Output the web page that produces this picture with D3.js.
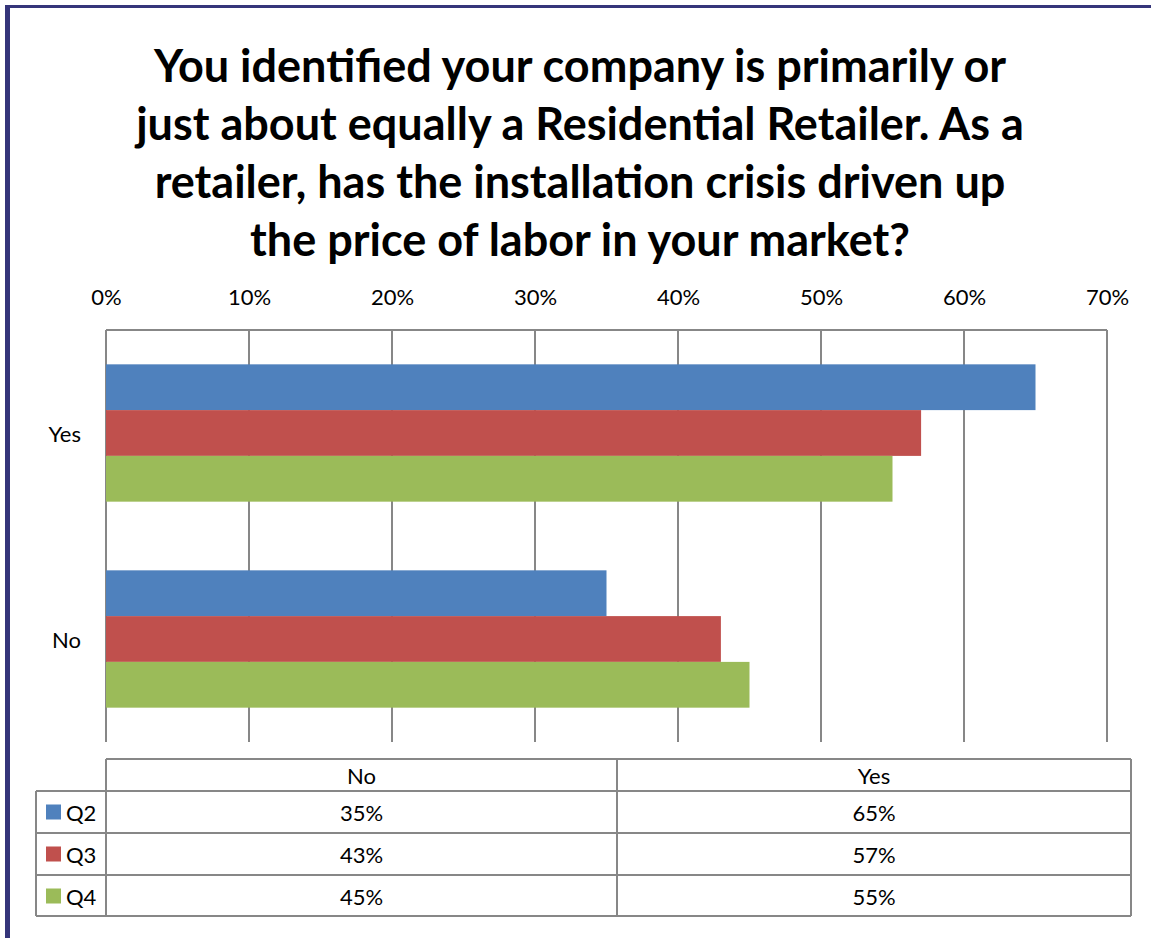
<!DOCTYPE html>
<html>
<head>
<meta charset="utf-8">
<script src="https://cdn.jsdelivr.net/npm/d3@7"></script>
<style>
  html, body { margin: 0; padding: 0; background: #fff; }
  svg { display: block; }
  text { font-family: Lato, "Open Sans", sans-serif; fill: #000; }
</style>
</head>
<body>
<svg id="chart" width="1151" height="938"></svg>
<script>
// Survey answers by quarter (share of respondents)
const categories = ["Yes", "No"];
const tableCategories = ["No", "Yes"];
const series = ["Q2", "Q3", "Q4"];
const q2Values = { Yes: 0.65, No: 0.35 };
const q3Values = { Yes: 0.57, No: 0.43 };
const q4Values = { Yes: 0.55, No: 0.45 };
const xTicks = [0, 0.1, 0.2, 0.3, 0.4, 0.5, 0.6, 0.7];
const titleLines = [
  "You identified your company is primarily or",
  "just about equally a Residential Retailer. As a",
  "retailer, has the installation crisis driven up",
  "the price of labor in your market?"
];

const seriesValues = { Q2: q2Values, Q3: q3Values, Q4: q4Values };
const colors = { Q2: "#4F81BD", Q3: "#C0504D", Q4: "#9BBB59" };
const gridColor = "#878787";
const smallFont = "22px";

const svg = d3.select("#chart");

// outer frame (left and top edges)
svg.append("rect").attr("x", 0).attr("y", 0).attr("width", 1151).attr("height", 938).attr("fill", "#fff");
svg.append("line").attr("x1", 5).attr("x2", 1151).attr("y1", 6.5).attr("y2", 6.5)
  .attr("stroke", "#35357A").attr("stroke-width", 3);
svg.append("line").attr("x1", 7.5).attr("x2", 7.5).attr("y1", 5).attr("y2", 938)
  .attr("stroke", "#35357A").attr("stroke-width", 5);

// title
const title = svg.append("text").attr("text-anchor", "middle")
  .style("font-weight", "bold").style("font-size", "45px");
titleLines.forEach((t, i) => {
  title.append("tspan").attr("x", 580).attr("y", 82 + i * 58).text(t);
});

// scales
const plotLeft = 106, plotRight = 1107, plotTop = 330, plotBottom = 742;
const x = d3.scaleLinear().domain([0, 0.7]).range([plotLeft, plotRight]);
const y0 = d3.scaleBand().domain(categories).range([plotTop, plotBottom]).padding(0);
const y1 = d3.scaleBand().domain(series).range([0, y0.bandwidth()])
  .paddingInner(0).paddingOuter(0.75);

// gridlines
svg.append("g").selectAll("line").data(xTicks).join("line")
  .attr("x1", d => x(d)).attr("x2", d => x(d))
  .attr("y1", plotTop).attr("y2", plotBottom)
  .attr("stroke", gridColor).attr("stroke-width", 2);
svg.append("line").attr("x1", plotLeft).attr("x2", plotRight)
  .attr("y1", plotTop).attr("y2", plotTop)
  .attr("stroke", gridColor).attr("stroke-width", 2);

// top value axis
const xAxis = d3.axisTop(x).tickValues(xTicks).tickSize(0).tickPadding(25)
  .tickFormat(d3.format(".0%"));
const ax = svg.append("g").attr("transform", `translate(0,${plotTop})`).call(xAxis);
ax.select(".domain").remove();
ax.selectAll("text").style("font-size", smallFont).style("font-family", "Lato, 'Open Sans', sans-serif")
  .attr("fill", "#000");

// category labels
svg.append("g").selectAll("text").data(categories).join("text")
  .attr("x", 81).attr("y", d => y0(d) + y0.bandwidth() / 2)
  .attr("text-anchor", "end").attr("dominant-baseline", "central")
  .style("font-size", smallFont).text(d => d);

// bars
const groups = svg.append("g").selectAll("g").data(categories).join("g")
  .attr("transform", d => `translate(0,${y0(d)})`);
groups.selectAll("rect")
  .data(c => series.map(s => ({ s, c, v: seriesValues[s][c] })))
  .join("rect")
  .attr("x", x(0))
  .attr("y", d => y1(d.s))
  .attr("width", d => x(d.v) - x(0))
  .attr("height", y1.bandwidth())
  .attr("fill", d => colors[d.s]);

// data table below the plot
const tblHeaderTop = 759, rowTops = [791, 833, 875], tblBottom = 916;
const legendLeft = 36, colEdges = [106, 617, 1131];
const tbl = svg.append("g");
const lineStyle = sel => sel.attr("stroke", gridColor).attr("stroke-width", 2).attr("fill", "none");

// header row
tbl.append("line").attr("x1", colEdges[0]).attr("x2", colEdges[2])
  .attr("y1", tblHeaderTop).attr("y2", tblHeaderTop).call(lineStyle);
// row separators
rowTops.concat([tblBottom]).forEach(yv => {
  tbl.append("line").attr("x1", legendLeft).attr("x2", colEdges[2])
    .attr("y1", yv).attr("y2", yv).call(lineStyle);
});
// vertical edges
tbl.append("line").attr("x1", legendLeft).attr("x2", legendLeft)
  .attr("y1", rowTops[0]).attr("y2", tblBottom).call(lineStyle);
colEdges.forEach(xv => {
  tbl.append("line").attr("x1", xv).attr("x2", xv)
    .attr("y1", tblHeaderTop).attr("y2", tblBottom).call(lineStyle);
});

// header labels
tbl.selectAll("text.hdr").data(tableCategories).join("text").attr("class", "hdr")
  .attr("x", (d, i) => (colEdges[i] + colEdges[i + 1]) / 2)
  .attr("y", (tblHeaderTop + rowTops[0]) / 2)
  .attr("text-anchor", "middle").attr("dominant-baseline", "central")
  .style("font-size", smallFont).text(d => d);

const rowH = rowTops[1] - rowTops[0];
series.forEach((s, r) => {
  const cy = rowTops[r] + rowH / 2;
  tbl.append("rect").attr("x", 46).attr("y", cy - 7.5).attr("width", 15).attr("height", 15)
    .attr("fill", colors[s]);
  tbl.append("text").attr("x", 66).attr("y", cy).attr("dominant-baseline", "central")
    .style("font-size", smallFont).text(s);
  tableCategories.forEach((c, i) => {
    tbl.append("text")
      .attr("x", (colEdges[i] + colEdges[i + 1]) / 2).attr("y", cy)
      .attr("text-anchor", "middle").attr("dominant-baseline", "central")
      .style("font-size", smallFont).text(d3.format(".0%")(seriesValues[s][c]));
  });
});
</script>
</body>
</html>
